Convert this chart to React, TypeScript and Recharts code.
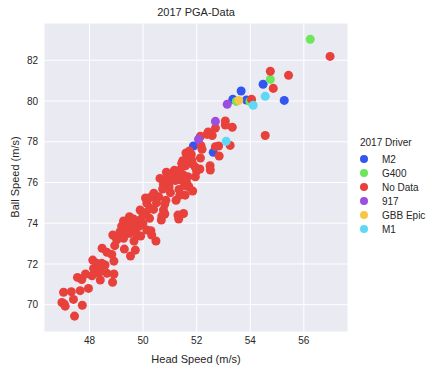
import React from 'react'
import { ScatterChart, Scatter, XAxis, YAxis, ZAxis, CartesianGrid, Label } from 'recharts'

// head speed (m/s) vs ball speed (m/s), grouped by 2017 driver
const m2 = [
  { x: 54.48, y: 80.82 }, { x: 53.66, y: 80.49 }, { x: 53.35, y: 80.08 }, { x: 53.86, y: 80.05 },
  { x: 55.27, y: 80.03 }, { x: 51.88, y: 77.79 }, { x: 52.62, y: 77.48 },
]
const g400 = [
  { x: 56.24, y: 83.03 }, { x: 54.75, y: 81.06 }, { x: 53.48, y: 79.98 }, { x: 53.99, y: 79.98 },
]
const noData = [
  { x: 56.98, y: 82.19 }, { x: 54.75, y: 81.46 }, { x: 55.43, y: 81.26 }, { x: 54.86, y: 80.62 },
  { x: 54.05, y: 80.08 }, { x: 54.56, y: 78.31 },
  { x: 53.07, y: 79.02 }, { x: 53.07, y: 78.82 }, { x: 53.33, y: 78.71 }, { x: 52.70, y: 78.67 },
  { x: 52.43, y: 78.48 }, { x: 52.39, y: 78.36 }, { x: 52.58, y: 78.31 }, { x: 52.14, y: 78.27 },
  { x: 52.16, y: 77.81 }, { x: 52.70, y: 77.76 }, { x: 52.82, y: 77.79 }, { x: 53.25, y: 77.82 },
  { x: 52.20, y: 77.63 }, { x: 51.73, y: 77.55 }, { x: 51.80, y: 77.38 }, { x: 52.84, y: 77.30 },
  { x: 52.14, y: 77.20 }, { x: 51.64, y: 77.27 }, { x: 51.48, y: 77.07 }, { x: 51.81, y: 77.12 },
  { x: 51.85, y: 76.91 }, { x: 52.50, y: 76.82 }, { x: 52.51, y: 76.61 }, { x: 51.44, y: 76.94 },
  { x: 51.58, y: 76.82 }, { x: 52.12, y: 76.66 }, { x: 52.00, y: 76.56 }, { x: 51.95, y: 76.28 },
  { x: 51.38, y: 76.61 }, { x: 51.17, y: 76.60 }, { x: 51.16, y: 76.37 }, { x: 51.30, y: 76.45 },
  { x: 51.50, y: 76.37 }, { x: 50.87, y: 76.50 }, { x: 50.63, y: 76.20 }, { x: 50.86, y: 76.15 },
  { x: 50.98, y: 76.04 }, { x: 50.76, y: 75.91 }, { x: 51.63, y: 75.96 }, { x: 51.71, y: 75.79 },
  { x: 51.85, y: 75.58 }, { x: 51.34, y: 75.66 }, { x: 51.37, y: 75.38 }, { x: 51.57, y: 75.38 },
  { x: 50.97, y: 75.79 }, { x: 50.73, y: 75.68 }, { x: 51.23, y: 75.13 }, { x: 50.85, y: 75.13 },
  { x: 50.81, y: 74.94 }, { x: 50.40, y: 75.47 }, { x: 50.31, y: 75.30 }, { x: 50.17, y: 75.17 },
  { x: 50.09, y: 75.24 }, { x: 50.14, y: 74.98 }, { x: 50.26, y: 74.73 }, { x: 50.39, y: 74.68 },
  { x: 49.89, y: 74.65 }, { x: 50.11, y: 74.53 }, { x: 50.76, y: 74.65 }, { x: 50.81, y: 74.45 },
  { x: 50.70, y: 74.35 }, { x: 50.24, y: 74.24 }, { x: 50.68, y: 74.16 }, { x: 51.51, y: 74.48 },
  { x: 51.30, y: 74.40 }, { x: 51.33, y: 74.21 }, { x: 49.49, y: 74.32 }, { x: 49.64, y: 74.21 },
  { x: 49.76, y: 74.08 }, { x: 49.89, y: 74.16 }, { x: 49.99, y: 73.99 }, { x: 49.27, y: 74.11 },
  { x: 49.20, y: 73.86 }, { x: 49.39, y: 73.83 }, { x: 49.57, y: 73.78 }, { x: 49.70, y: 73.67 },
  { x: 49.30, y: 73.58 }, { x: 49.49, y: 73.50 }, { x: 49.14, y: 73.58 }, { x: 50.14, y: 73.67 },
  { x: 50.29, y: 73.63 }, { x: 50.32, y: 73.42 }, { x: 50.48, y: 73.13 }, { x: 49.91, y: 73.37 },
  { x: 49.78, y: 73.42 }, { x: 49.66, y: 73.13 }, { x: 49.27, y: 73.26 }, { x: 48.96, y: 73.34 },
  { x: 48.87, y: 73.42 }, { x: 49.02, y: 73.18 }, { x: 49.30, y: 72.73 }, { x: 49.71, y: 72.68 },
  { x: 49.53, y: 72.39 }, { x: 48.94, y: 72.90 }, { x: 48.47, y: 72.77 }, { x: 48.65, y: 72.57 },
  { x: 48.83, y: 72.47 }, { x: 48.91, y: 72.14 }, { x: 48.12, y: 72.19 }, { x: 48.27, y: 72.03 },
  { x: 48.46, y: 72.03 }, { x: 48.58, y: 71.95 }, { x: 48.15, y: 71.78 }, { x: 48.40, y: 71.70 },
  { x: 48.09, y: 71.42 }, { x: 48.34, y: 71.54 }, { x: 48.65, y: 71.54 }, { x: 48.91, y: 71.51 },
  { x: 48.40, y: 71.21 }, { x: 48.86, y: 71.10 }, { x: 47.85, y: 71.51 }, { x: 47.55, y: 71.34 },
  { x: 47.71, y: 71.24 }, { x: 47.96, y: 70.80 }, { x: 47.65, y: 70.69 }, { x: 47.32, y: 70.64 },
  { x: 47.03, y: 70.61 }, { x: 47.40, y: 70.26 }, { x: 46.97, y: 70.11 }, { x: 47.06, y: 70.03 },
  { x: 47.09, y: 69.93 }, { x: 47.73, y: 69.97 }, { x: 47.44, y: 69.44 },
  { x: 51.05, y: 76.35 }, { x: 51.20, y: 76.10 }, { x: 51.42, y: 76.12 }, { x: 51.55, y: 75.85 },
  { x: 51.67, y: 76.28 }, { x: 51.02, y: 75.50 }, { x: 50.50, y: 75.00 }, { x: 50.58, y: 75.30 },
  { x: 49.60, y: 73.95 }, { x: 49.45, y: 74.02 }, { x: 49.85, y: 73.85 }, { x: 50.00, y: 74.40 },
  { x: 51.60, y: 77.45 }, { x: 51.75, y: 77.00 }, { x: 51.95, y: 76.75 },
]
const d917 = [
  { x: 53.14, y: 79.84 }, { x: 52.70, y: 79.0 }, { x: 52.07, y: 78.12 },
]
const gbbEpic = [
  { x: 53.57, y: 80.03 },
]
const m1 = [
  { x: 54.56, y: 80.23 }, { x: 54.11, y: 79.79 }, { x: 53.10, y: 78.02 },
]

const xTicks = [48, 50, 52, 54, 56]
const yTicks = [70, 72, 74, 76, 78, 80, 82]

const series = [
  { name: 'M2', data: m2, color: '#3456f0' },
  { name: 'G400', data: g400, color: '#6de65b' },
  { name: 'No Data', data: noData, color: '#e8403b' },
  { name: '917', data: d917, color: '#9b4ee0' },
  { name: 'GBB Epic', data: gbbEpic, color: '#f8c546' },
  { name: 'M1', data: m1, color: '#5fd8f5' },
]

const textColor = '#262626'
const font = '"Liberation Sans", Arial, sans-serif'

function DriverLegend() {
  return (
    <div style={{ position: 'absolute', left: 360, top: 137, fontFamily: font, fontSize: 10, color: textColor }}>
      <div style={{ marginBottom: 1, height: 14 }}>2017 Driver</div>
      {series.map((s) => (
        <div key={s.name} style={{ display: 'flex', alignItems: 'center', height: 14 }}>
          <span style={{ width: 8, height: 8, borderRadius: 4, background: s.color, display: 'inline-block' }} />
          <span style={{ marginLeft: 14 }}>{s.name}</span>
        </div>
      ))}
    </div>
  )
}

export default function App() {
  return (
    <div style={{ position: 'absolute', left: 0, top: 0, width: 439, height: 375, background: '#fff' }}>
      <style>{'body{margin:0}'}</style>
      <div style={{ position: 'absolute', left: 44, width: 304, top: 6, textAlign: 'center', fontFamily: font, fontSize: 11, color: textColor }}>
        2017 PGA-Data
      </div>
      <ScatterChart width={439} height={375} margin={{ top: 23, right: 91, left: 0, bottom: 0 }} style={{ fontFamily: font }}>
        <CartesianGrid stroke="#ffffff" strokeWidth={1} fill="#eaeaf2" />
        <XAxis
          type="number"
          dataKey="x"
          domain={[46.3, 57.65]}
          ticks={xTicks}
          axisLine={false}
          tickLine={false}
          tickSize={3}
          height={43}
          tick={{ fontSize: 10, fill: textColor }}
        >
          <Label value="Head Speed (m/s)" position="insideBottom" offset={12} style={{ fontSize: 11, fill: textColor }} />
        </XAxis>
        <YAxis
          type="number"
          dataKey="y"
          domain={[68.66, 83.83]}
          ticks={yTicks}
          axisLine={false}
          tickLine={false}
          tickSize={4}
          width={44}
          tick={{ fontSize: 10, fill: textColor }}
        >
          <Label
            content={() => (
              <text x={15} y={177} transform="rotate(-90 15 177)" textAnchor="middle" dominantBaseline="central" fontSize={11} fill={textColor}>
                Ball Speed (m/s)
              </text>
            )}
          />
        </YAxis>
        <ZAxis range={[64, 64]} />
        {series.map((s) => (
          <Scatter key={s.name} name={s.name} data={s.data} fill={s.color} isAnimationActive={false} />
        ))}
      </ScatterChart>
      <DriverLegend />
    </div>
  )
}
